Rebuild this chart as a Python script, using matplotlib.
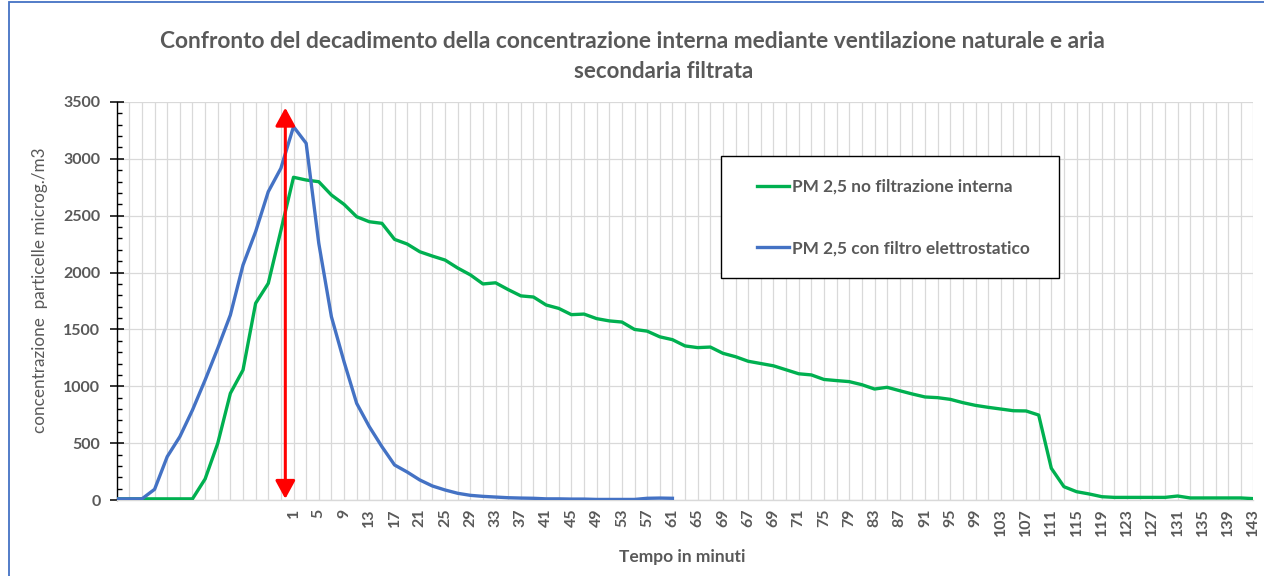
"""Decadimento PM 2,5: ventilazione naturale vs aria secondaria filtrata."""

import matplotlib
matplotlib.use("Agg")
import matplotlib.pyplot as plt
from matplotlib.lines import Line2D
from matplotlib.patches import Rectangle, ArrowStyle
from matplotlib.ticker import MultipleLocator

plt.rcParams["font.family"] = ["Lato", "DejaVu Sans"]

# --------------------------------------------------------------------- dati

titolo_1 = "Confronto del decadimento della concentrazione interna mediante ventilazione naturale e aria"
titolo_2 = "secondaria filtrata"
etichetta_y = "concentrazione  particelle microg./m3"
etichetta_x = "Tempo in minuti"

n_categorie = 91
primo_etichettato = 14  # le prime categorie non hanno etichetta
etichette_minuti = ["1", "5", "9", "13", "17", "21", "25", "29", "33", "37", "41",
                    "45", "49", "53", "57", "61", "65", "69", "67", "69", "71", "75",
                    "79", "83", "87", "91", "95", "99", "103", "107", "111", "115",
                    "119", "123", "127", "131", "135", "139", "143"]

nome_no_filtro = "PM 2,5 no filtrazione interna"
nome_filtro = "PM 2,5 con filtro elettrostatico"

pm25_no_filtro = [10, 10, 10, 10, 10, 10, 10, 185, 498, 938,
                  1143, 1730, 1905, 2370, 2838, 2814, 2799, 2682, 2600, 2491,
                  2447, 2433, 2292, 2251, 2183, 2145, 2110, 2040, 1980, 1900,
                  1910, 1850, 1795, 1785, 1715, 1685, 1630, 1635, 1595, 1575,
                  1565, 1500, 1485, 1435, 1410, 1355, 1340, 1345, 1290, 1260,
                  1220, 1200, 1180, 1145, 1110, 1100, 1060, 1050, 1041, 1014,
                  976, 991, 961, 932, 906, 900, 885, 856, 832, 815,
                  800, 785, 783, 747, 279, 117, 73, 53, 29, 23,
                  23, 23, 23, 23, 35, 18, 18, 18, 18, 18,
                  12]

pm25_filtro = [10, 10, 10, 94, 381, 557, 791, 1055, 1334, 1627,
               2066, 2360, 2711, 2917, 3283, 3137, 2257, 1612, 1216, 850,
               645, 469, 308, 246, 176, 123, 88, 59, 41, 32,
               26, 20, 17, 15, 10, 10, 8, 8, 5, 5,
               5, 5, 15, 17, 15]

# freccia rossa (inizio ventilazione)
freccia_x = 13.35
freccia_y = (10, 3450)

# --------------------------------------------------------------------- stile

GRIGIO = "#595959"
GRIGLIA = "#D9D9D9"
VERDE = "#00B050"
BLU = "#4472C4"

W, H = 1264, 576
fig = plt.figure(figsize=(W / 100, H / 100), dpi=100)
ax = fig.add_axes([116.7 / W, 1 - 500 / H, (1253.4 - 116.7) / W, (500 - 102) / H])

x_nf = list(range(len(pm25_no_filtro)))
x_f = list(range(len(pm25_filtro)))
ax.plot(x_nf, pm25_no_filtro, color=VERDE, lw=2.4, solid_joinstyle="round", zorder=3)
ax.plot(x_f, pm25_filtro, color=BLU, lw=2.4, solid_joinstyle="round", zorder=3)

ax.annotate("", xy=(freccia_x, freccia_y[1]), xytext=(freccia_x, freccia_y[0]),
            arrowprops=dict(arrowstyle=ArrowStyle("<|-|>", head_length=0.55, head_width=0.3),
                            mutation_scale=20, color="red", lw=2.2,
                            shrinkA=0, shrinkB=0), zorder=4)

ax.set_xlim(0, n_categorie - 1)
ax.set_ylim(0, 3500)

# asse x: una linea di griglia per categoria, etichette ogni due
pos = list(range(primo_etichettato, n_categorie, 2))
ax.set_xticks(pos)
ax.set_xticklabels(etichette_minuti, rotation=90, fontsize=11.5, fontweight="bold",
                   color=GRIGIO)
ax.xaxis.set_minor_locator(MultipleLocator(1))
ax.tick_params(axis="x", which="major", length=0, pad=6)
ax.tick_params(axis="x", which="minor", length=3, direction="in", color=GRIGLIA)

ax.yaxis.set_major_locator(MultipleLocator(500))
ax.yaxis.set_minor_locator(MultipleLocator(100))
ax.tick_params(axis="y", which="major", direction="inout", length=9.5, width=1.1,
               color="black", labelsize=11.5, labelcolor=GRIGIO, pad=7)
ax.tick_params(axis="y", which="minor", direction="in", length=3.5, width=1,
               color="black")
for t in ax.get_yticklabels():
    t.set_fontweight("bold")

ax.grid(True, axis="x", which="both", color=GRIGLIA, lw=0.9)
ax.grid(True, axis="y", which="major", color=GRIGLIA, lw=0.9)
ax.set_axisbelow(True)

for lato in ("top", "right"):
    ax.spines[lato].set_visible(False)
ax.spines["left"].set_color("black")
ax.spines["left"].set_linewidth(1)
ax.spines["bottom"].set_color(GRIGLIA)
ax.spines["bottom"].set_linewidth(1)

# testi
fig.text(632 / W, 1 - 42 / H, titolo_1, ha="center", va="center",
         fontsize=16.4, fontweight="bold", color=GRIGIO)
fig.text(664 / W, 1 - 71 / H, titolo_2, ha="center", va="center",
         fontsize=16, fontweight="bold", color=GRIGIO)
fig.text(40 / W, 1 - 290 / H, etichetta_y, rotation=90, ha="center", va="center",
         fontsize=12.3, color=GRIGIO)
fig.text(682 / W, 1 - 557 / H, etichetta_x, ha="center", va="center",
         fontsize=12.5, fontweight="bold", color=GRIGIO)

# legenda: cornice nera disegnata a parte
maniglie = [Line2D([0], [0], color=VERDE, lw=2.4), Line2D([0], [0], color=BLU, lw=2.4)]
leg = fig.legend(maniglie, [nome_no_filtro, nome_filtro], loc="upper left",
                 bbox_to_anchor=(757 / W, 1 - 179 / H), frameon=False, borderpad=0,
                 borderaxespad=0, handlelength=1.85, handletextpad=0.17,
                 labelspacing=2.62, prop=dict(size=12.4, weight="bold"))
for t in leg.get_texts():
    t.set_color(GRIGIO)
fig.patches.append(Rectangle((721 / W, 1 - 278 / H), (1059 - 721) / W, (278 - 156) / H,
                             transform=fig.transFigure, fill=True, facecolor="white",
                             edgecolor="black", lw=1, zorder=2))
leg.set_zorder(5)

# bordo dell'area grafico
fig.patches.append(Rectangle((8.5 / W, -0.05), 1.2, 1.05 - 2.5 / H,
                             transform=fig.transFigure, fill=False,
                             edgecolor=BLU, lw=1.3))

fig.savefig("out.png", dpi=100)
